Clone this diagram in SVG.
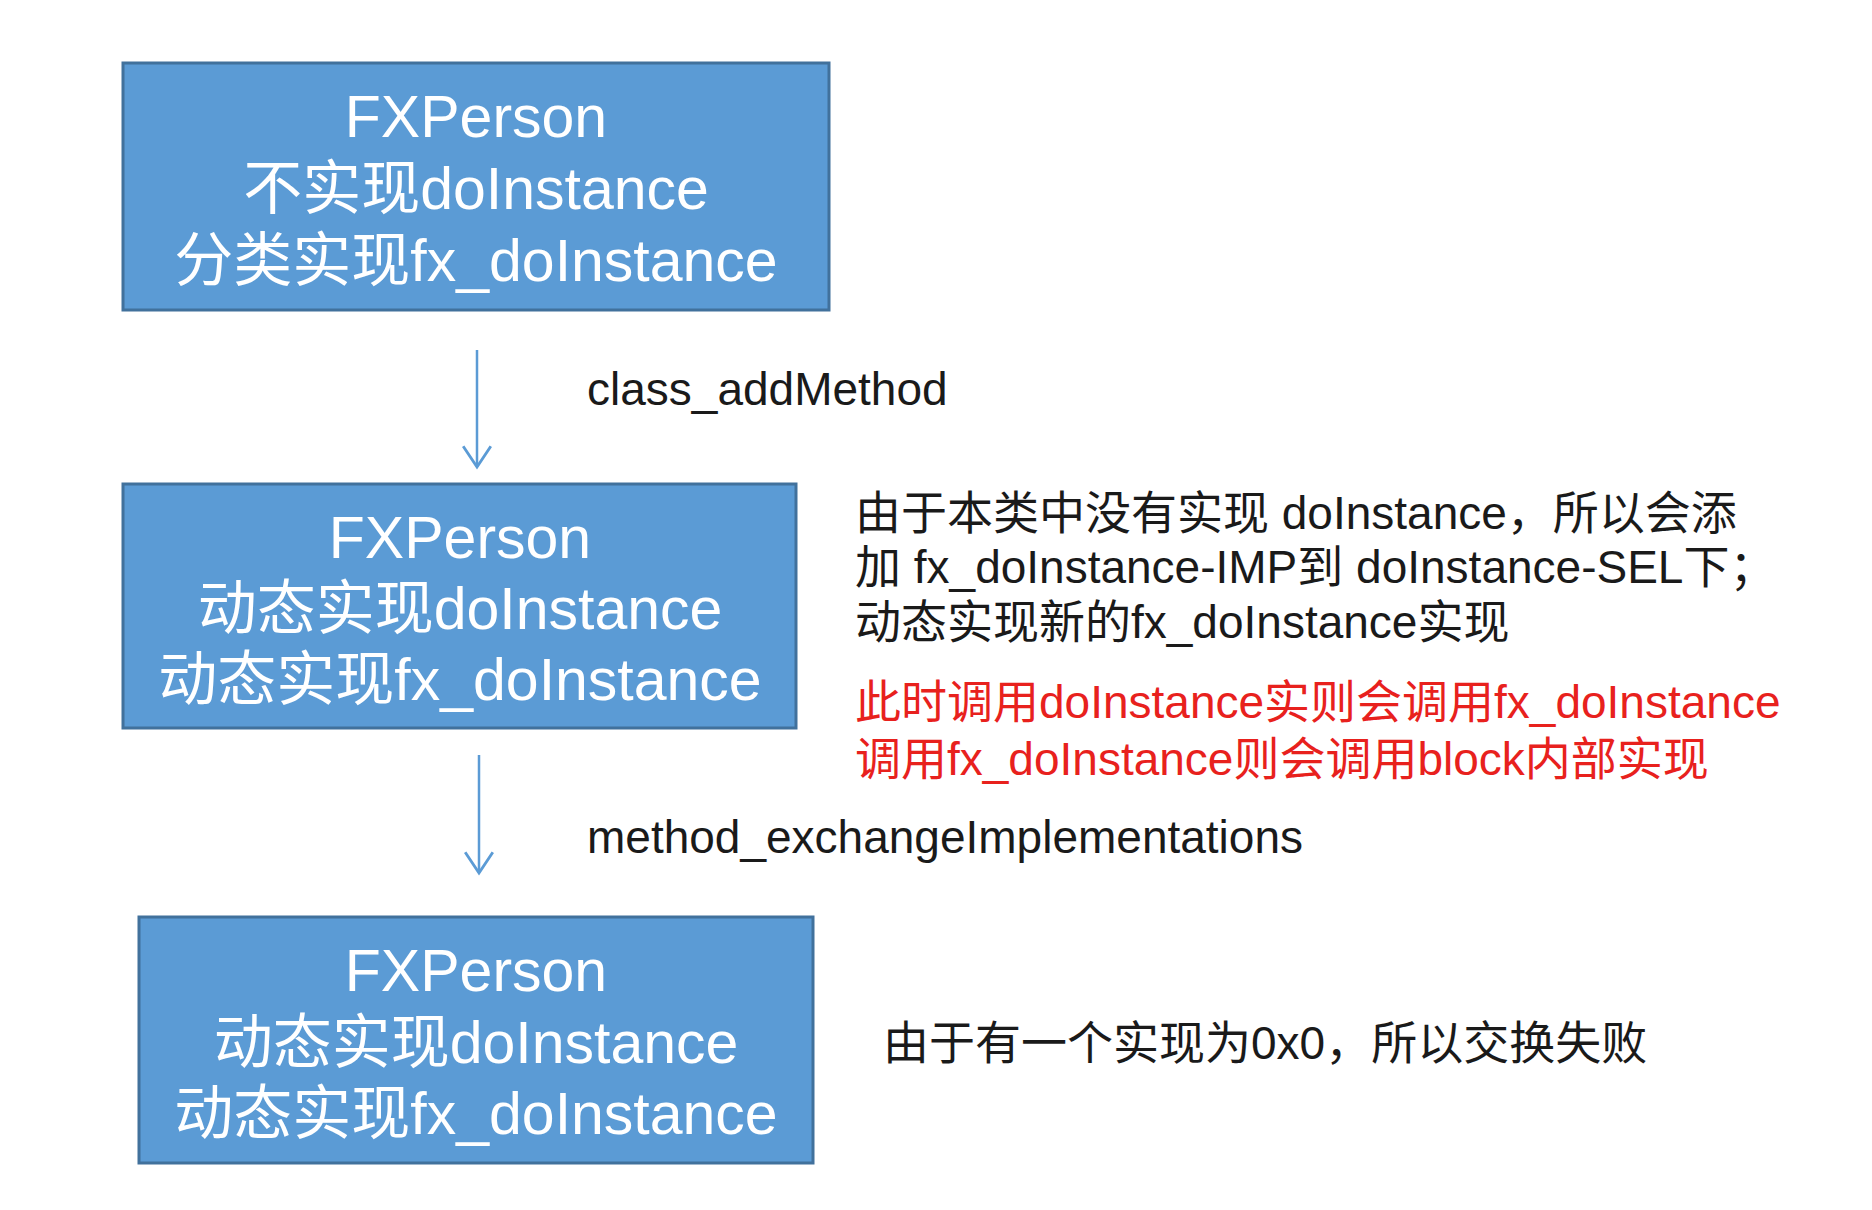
<svg xmlns="http://www.w3.org/2000/svg" width="1872" height="1210" viewBox="0 0 1872 1210">
<style>
.box{fill:#5B9BD5;stroke:#41719C;stroke-width:3}
.bt{font-family:"Liberation Sans","Noto Sans CJK SC",sans-serif;font-size:59px;fill:#ffffff;text-anchor:middle}
.lbl{font-family:"Liberation Sans","Noto Sans CJK SC",sans-serif;font-size:46px;fill:#1a1a1a}
.red{fill:#e8211d}
.conn{stroke:#5B9BD5;stroke-width:2.5;fill:none}
</style>
<defs>
<marker id="arr" markerUnits="userSpaceOnUse" markerWidth="30" markerHeight="30" refX="20" refY="13" orient="auto" viewBox="0 0 24 26">
<path d="M2,1 L20,13 L2,25" fill="none" stroke="#5B9BD5" stroke-width="2.5"/>
</marker>
</defs>
<rect width="1872" height="1210" fill="#ffffff"/>
<g id="connectors">
<line class="conn" x1="477" y1="350" x2="477" y2="467" marker-end="url(#arr)"/>
<line class="conn" x1="479" y1="755" x2="479" y2="873" marker-end="url(#arr)"/>
</g>
<g id="node1">
<rect class="box" x="123" y="63" width="706" height="247"/>
<text class="bt" x="476" y="137">FXPerson</text>
<text class="bt" x="476" y="209">不实现doInstance</text>
<text class="bt" x="476" y="281">分类实现fx_doInstance</text>
</g>
<g id="node2">
<rect class="box" x="123" y="484" width="673" height="244"/>
<text class="bt" x="460" y="558">FXPerson</text>
<text class="bt" x="460" y="629">动态实现doInstance</text>
<text class="bt" x="460" y="700">动态实现fx_doInstance</text>
</g>
<g id="node3">
<rect class="box" x="139" y="917" width="674" height="246"/>
<text class="bt" x="476" y="991">FXPerson</text>
<text class="bt" x="476" y="1063">动态实现doInstance</text>
<text class="bt" x="476" y="1134">动态实现fx_doInstance</text>
</g>
<g id="label-addMethod">
<text class="lbl" x="587" y="405">class_addMethod</text>
</g>
<g id="label-exchange">
<text class="lbl" x="587" y="853">method_exchangeImplementations</text>
</g>
<g id="note1">
<text class="lbl" x="855" y="529">由于本类中没有实现 doInstance，所以会添</text>
<text class="lbl" x="855" y="583">加 fx_doInstance-IMP到 doInstance-SEL下；</text>
<text class="lbl" x="855" y="638">动态实现新的fx_doInstance实现</text>
<text class="lbl red" x="855" y="718">此时调用doInstance实则会调用fx_doInstance</text>
<text class="lbl red" x="855" y="775">调用fx_doInstance则会调用block内部实现</text>
</g>
<g id="note2">
<text class="lbl" x="883" y="1059">由于有一个实现为0x0，所以交换失败</text>
</g>
</svg>
